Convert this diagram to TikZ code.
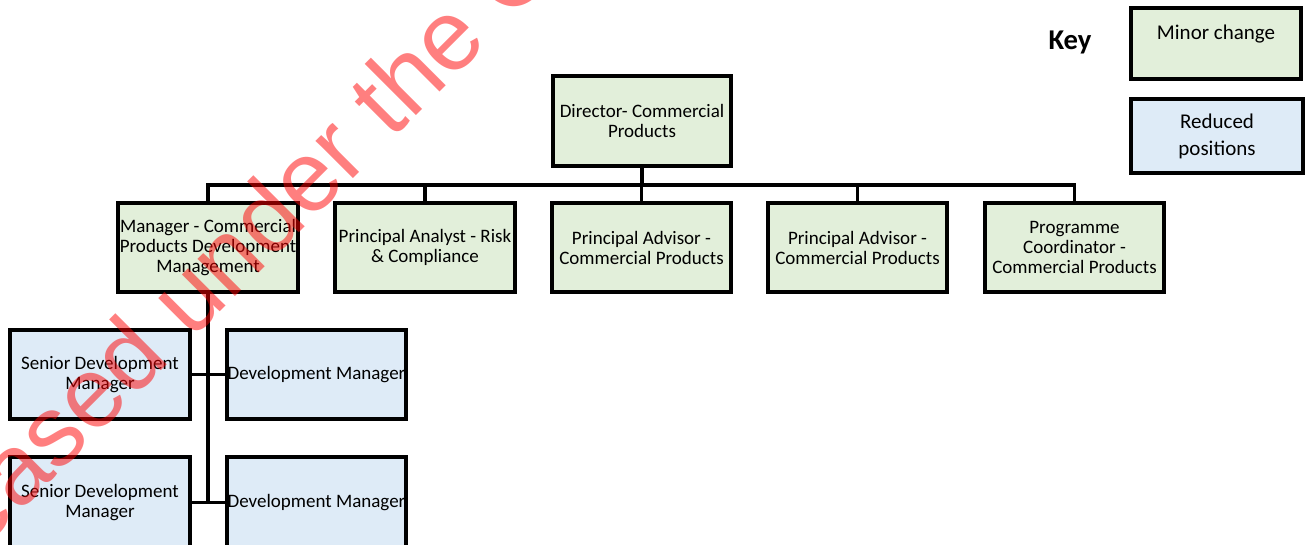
\documentclass[tikz,border=0pt]{standalone}
\usepackage{fontspec}
\setmainfont{Carlito}
\newfontfamily\wmfont{Liberation Sans}
\definecolor{minorgreen}{HTML}{E2EFDA}
\definecolor{reducedblue}{HTML}{DEEBF7}
\begin{document}
\begin{tikzpicture}[x=0.75pt,y=-0.75pt,
  orgbox/.style={draw=black, line width=2.9pt, minimum width=179*0.75pt, minimum height=89*0.75pt,
    inner sep=0pt, align=center, font=\fontsize{14.25}{15}\selectfont},
  greenbox/.style={orgbox, fill=minorgreen},
  bluebox/.style={orgbox, fill=reducedblue},
  link/.style={line width=2.9pt, draw=black},
  keytext/.style={font=\fontsize{15.75}{20.25}\selectfont, align=center, inner sep=0pt}]
\useasboundingbox (0,0) rectangle (1308,545);

% top level
\node[greenbox, minimum width=178*0.75pt, minimum height=90*0.75pt] (dir) at (642,121) {Director- Commercial\\Products};

% second level
\node[greenbox, minimum width=180*0.75pt] (mgr) at (208,247.5) {Manager - Commercial\\Products Development\\Management};
\node[greenbox, minimum width=180*0.75pt] (risk) at (425,247.5) {Principal Analyst - Risk\\\& Compliance};
\node[greenbox] (pa1) at (641.5,247.5) {Principal Advisor -\\Commercial Products};
\node[greenbox] (pa2) at (857.5,247.5) {Principal Advisor -\\Commercial Products};
\node[greenbox] (pc) at (1074.5,247.5) {Programme\\Coordinator -\\Commercial Products};

% third level
\node[bluebox, minimum width=180*0.75pt] (sdm1) at (100,374.5) {Senior Development\\Manager};
\node[bluebox] (dm1) at (316.5,374.5) {Development Manager};
\node[bluebox, minimum width=180*0.75pt, minimum height=91*0.75pt] (sdm2) at (100,502.5) {Senior Development\\Manager};
\node[bluebox, minimum height=91*0.75pt] (dm2) at (316.5,502.5) {Development Manager};

% connectors
\coordinate (bus) at (0,185);
\draw[link] (dir.south) -- (dir.south |- bus);
\draw[link] (mgr.north) -- (mgr.north |- bus) -- (pc.north |- bus) -- (pc.north);
\draw[link] (risk.north) -- (risk.north |- bus);
\draw[link] (pa1.north) -- (pa1.north |- bus);
\draw[link] (pa2.north) -- (pa2.north |- bus);
\draw[link] (mgr.south) -- (mgr.south |- sdm2.east);
\draw[link] (sdm1.east) -- (dm1.west);
\draw[link] (sdm2.east) -- (dm2.west);

% key
\node[font=\fontsize{21.5}{24}\selectfont\bfseries, inner sep=0pt] (keylabel) at (1070,42) {Key};
\node[draw=black, line width=2.9pt, fill=minorgreen, minimum width=170*0.75pt, minimum height=71*0.75pt, inner sep=0pt] (keyminor) at (1216,43.5) {};
\node[keytext] (keyminortxt) at (1216,34) {Minor change};
\node[draw=black, line width=2.9pt, fill=reducedblue, minimum width=172*0.75pt, minimum height=74*0.75pt, inner sep=0pt, keytext] (keyreduced) at (1217,136) {Reduced\\positions};

% watermark
\begin{scope}
\clip (0,0) rectangle (1308,545);
\node[anchor=base west, rotate=45, inner sep=0pt, text=red, text opacity=0.5,
  font=\wmfont\fontsize{75}{80}\selectfont] (wm) at (-127,659) {Released under the Official Information Act};
\end{scope}
\end{tikzpicture}
\end{document}
